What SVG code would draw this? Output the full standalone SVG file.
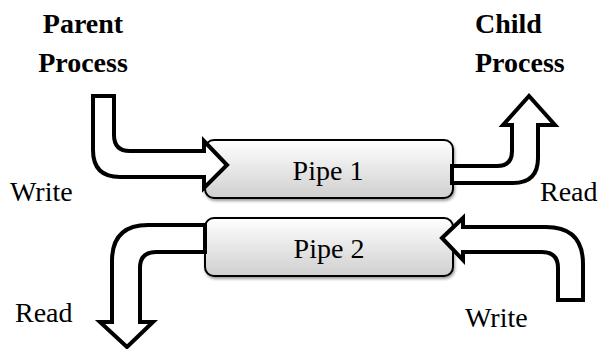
<svg xmlns="http://www.w3.org/2000/svg" width="600" height="349" viewBox="0 0 600 349">
<defs>
<linearGradient id="pg" x1="0" y1="0" x2="0" y2="1">
<stop offset="0" stop-color="#ffffff"/>
<stop offset="1" stop-color="#cfcfcf"/>
</linearGradient>
<filter id="sh" x="-5%" y="-10%" width="115%" height="130%">
<feGaussianBlur in="SourceAlpha" stdDeviation="1.5"/>
<feOffset dx="1" dy="2" result="b"/>
<feComponentTransfer><feFuncA type="linear" slope="0.4"/></feComponentTransfer>
<feMerge><feMergeNode/><feMergeNode in="SourceGraphic"/></feMerge>
</filter>
</defs>
<style>
.pipe{fill:url(#pg);stroke:#000;stroke-width:2}
.arr{fill:#fff;stroke:#000;stroke-width:4;stroke-linejoin:miter}
.t{font-family:"Liberation Serif","Times New Roman",serif;font-size:28px;fill:#000}
.b{font-weight:bold}
</style>
<g id="pipe1">
<rect class="pipe" x="205" y="140" width="248" height="58" rx="9" filter="url(#sh)"/>
<text class="t" x="328" y="180" text-anchor="middle">Pipe 1</text>
</g>
<g id="pipe2">
<rect class="pipe" x="205" y="218" width="248" height="58" rx="9" filter="url(#sh)"/>
<text class="t" x="329" y="258" text-anchor="middle">Pipe 2</text>
</g>
<g id="connectors">
<path class="arr" d="M 93,96 L 114,96 L 114,135 Q 114,151 130,151 L 204,151 L 204,141 L 227,165 L 204,188 L 204,177 L 120,177 Q 93,177 93,150 Z"/>
<path class="arr" d="M 452,166 L 497,166 Q 512,166 512,151 L 512,125 L 503,125 L 529,96 L 555,125 L 538,125 L 538,158 Q 538,183 513,183 L 452,183 Z"/>
<path class="arr" d="M 205,225 L 148,225 Q 112,225 112,261 L 112,322 L 100,322 L 127,347 L 153,322 L 140,322 L 140,268 Q 140,252 156,252 L 205,252 Z"/>
<path class="arr" d="M 442,238 L 463,218 L 463,227 L 546,227 Q 583,227 583,264 L 583,300 L 558,300 L 558,268 Q 558,252 542,252 L 463,252 L 463,260 Z"/>
</g>
<g id="parent">
<text class="t b" x="83" y="33" text-anchor="middle">Parent</text>
<text class="t b" x="83" y="72" text-anchor="middle">Process</text>
</g>
<g id="child">
<text class="t b" x="475" y="33">Child</text>
<text class="t b" x="475" y="72">Process</text>
</g>
<g id="labels">
<text class="t" x="10" y="201">Write</text>
<text class="t" x="540" y="201">Read</text>
<text class="t" x="15" y="322">Read</text>
<text class="t" x="465" y="327">Write</text>
</g>
</svg>
